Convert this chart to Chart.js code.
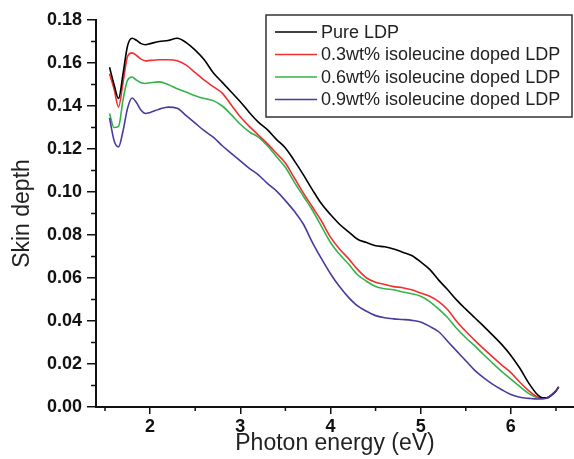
<!DOCTYPE html>
<html>
<head>
<meta charset="utf-8">
<script src="https://cdn.jsdelivr.net/npm/chart.js@4.4.0/dist/chart.umd.min.js"></script>
<style>
  html, body { margin: 0; padding: 0; background: #fff; }
</style>
</head>
<body>
<canvas id="myChart" width="574" height="459"></canvas>
<script>
// Photon energy (eV)
const energy = [1.55, 1.6, 1.65, 1.7, 1.75, 1.8, 1.85, 1.9, 1.95, 2.0,
  2.1, 2.2, 2.3, 2.4, 2.5, 2.6, 2.7, 2.8, 2.9, 3.0,
  3.1, 3.2, 3.3, 3.4, 3.5, 3.6, 3.7, 3.8, 3.9, 4.0,
  4.1, 4.2, 4.3, 4.4, 4.5, 4.6, 4.7, 4.8, 4.9, 5.0,
  5.1, 5.2, 5.3, 5.4, 5.5, 5.6, 5.7, 5.8, 5.9, 6.0,
  6.1, 6.2, 6.3, 6.35, 6.4, 6.45, 6.5, 6.53];

// Skin depth for each sample
const pureLDP = [0.158, 0.150, 0.1435, 0.155, 0.168, 0.1715, 0.1705, 0.169, 0.1685, 0.169,
  0.170, 0.1705, 0.1715, 0.1695, 0.166, 0.1615, 0.1555, 0.151, 0.1465, 0.142,
  0.137, 0.1325, 0.129, 0.1245, 0.1205, 0.1145, 0.108, 0.101, 0.0945, 0.0895,
  0.085, 0.0815, 0.078, 0.0765, 0.075, 0.0745, 0.0735, 0.072, 0.0705, 0.0675,
  0.064, 0.059, 0.0545, 0.0497, 0.0455, 0.0415, 0.0375, 0.0333, 0.029, 0.024,
  0.018, 0.011, 0.0055, 0.0043, 0.0043, 0.0055, 0.0075, 0.0093];
const doped03 = [0.155, 0.148, 0.1395, 0.151, 0.163, 0.1647, 0.1635, 0.1618, 0.161, 0.1612,
  0.1615, 0.1615, 0.161, 0.159, 0.1555, 0.152, 0.149, 0.146, 0.1405, 0.135,
  0.1305, 0.1265, 0.1225, 0.118, 0.1135, 0.1065, 0.0995, 0.093, 0.0865, 0.079,
  0.0735, 0.069, 0.064, 0.060, 0.058, 0.057, 0.056, 0.0555, 0.0545, 0.053,
  0.0515, 0.049, 0.0452, 0.0398, 0.0352, 0.031, 0.027, 0.0232, 0.0195, 0.016,
  0.0115, 0.0075, 0.0045, 0.004, 0.0042, 0.0055, 0.0075, 0.0093];
const doped06 = [0.1365, 0.130, 0.1305, 0.143, 0.152, 0.1535, 0.152, 0.1508, 0.1505, 0.1508,
  0.1512, 0.150, 0.148, 0.1465, 0.1448, 0.1435, 0.1425, 0.140, 0.136, 0.1315,
  0.128, 0.1255, 0.1215, 0.1165, 0.1115, 0.1045, 0.098, 0.0915, 0.084, 0.0765,
  0.071, 0.0665, 0.0615, 0.0585, 0.056, 0.055, 0.0545, 0.0535, 0.0527, 0.0515,
  0.049, 0.0455, 0.0415, 0.0365, 0.0322, 0.0284, 0.0243, 0.0203, 0.0165, 0.013,
  0.0095, 0.0062, 0.0042, 0.004, 0.0042, 0.0055, 0.0075, 0.0093];
const doped09 = [0.1345, 0.124, 0.121, 0.1285, 0.139, 0.1437, 0.1415, 0.138, 0.1365, 0.137,
  0.1385, 0.1395, 0.139, 0.1355, 0.132, 0.1285, 0.1255, 0.1215, 0.118, 0.1145,
  0.111, 0.108, 0.104, 0.1005, 0.096, 0.091, 0.085, 0.0765, 0.069, 0.062,
  0.056, 0.051, 0.047, 0.0445, 0.0425, 0.0415, 0.041, 0.0407, 0.0403, 0.0395,
  0.0375, 0.035, 0.0305, 0.026, 0.0215, 0.017, 0.0135, 0.0105, 0.008, 0.0058,
  0.0045, 0.004, 0.0037, 0.0038, 0.0042, 0.0055, 0.0075, 0.0093];

const seriesNames = ['Pure LDP', '0.3wt% isoleucine doped LDP',
  '0.6wt% isoleucine doped LDP', '0.9wt% isoleucine doped LDP'];
const seriesColors = ['#000000', '#f0302e', '#33b44a', '#4b3a9e'];

// axis ticks
const xMajor = [2, 3, 4, 5, 6];
const xMinor = [1.5, 2.5, 3.5, 4.5, 5.5, 6.5];
const yMajor = [0, 0.02, 0.04, 0.06, 0.08, 0.10, 0.12, 0.14, 0.16, 0.18];
const yMinor = [0.01, 0.03, 0.05, 0.07, 0.09, 0.11, 0.13, 0.15, 0.17];

const FONT = "'Liberation Sans', Arial, sans-serif";

function toPoints(ys) {
  return energy.map((x, i) => ({ x: x, y: ys[i] }));
}

const allSeries = [pureLDP, doped03, doped06, doped09];
const drawOrder = [1, 2, 3, 0];

const data = {
  datasets: allSeries.map((ys, i) => ({
    label: seriesNames[i],
    data: toPoints(ys),
    borderColor: seriesColors[i],
    borderWidth: 1.6,
    pointRadius: 0,
    cubicInterpolationMode: 'monotone',
    fill: false,
    order: drawOrder[i]
  }))
};

// minor tick marks, drawn with the axes' own scales
const minorTicks = {
  id: 'minorTicks',
  afterDraw(chart) {
    const ctx = chart.ctx;
    const xs = chart.scales.x, ys = chart.scales.y;
    ctx.save();
    ctx.strokeStyle = '#111';
    ctx.lineWidth = 1.5;
    ctx.beginPath();
    xMinor.forEach(v => {
      const px = xs.getPixelForValue(v);
      ctx.moveTo(px, xs.top);
      ctx.lineTo(px, xs.top + 4);
    });
    yMinor.forEach(v => {
      const py = ys.getPixelForValue(v);
      ctx.moveTo(ys.right, py);
      ctx.lineTo(ys.right - 5, py);
    });
    ctx.stroke();
    ctx.restore();
  }
};

// boxed legend inside the plot
const boxLegend = {
  id: 'boxLegend',
  afterDraw(chart) {
    const ctx = chart.ctx;
    const left = 266, top = 15, right = 572, bottom = 117;
    ctx.save();
    ctx.fillStyle = '#fff';
    ctx.fillRect(left, top, right - left, bottom - top);
    ctx.strokeStyle = '#333';
    ctx.lineWidth = 1.5;
    ctx.strokeRect(left, top, right - left, bottom - top);
    ctx.font = '18px ' + FONT;
    ctx.textBaseline = 'middle';
    ctx.textAlign = 'left';
    seriesNames.forEach((name, i) => {
      const y = 32 + i * 22.5;
      ctx.strokeStyle = seriesColors[i];
      ctx.lineWidth = 1.6;
      ctx.beginPath();
      ctx.moveTo(275, y);
      ctx.lineTo(317, y);
      ctx.stroke();
      ctx.fillStyle = '#222';
      ctx.fillText(name, 321, y + 1);
    });
    ctx.restore();
  }
};

const options = {
  responsive: false,
  animation: false,
  layout: { padding: { top: 20, right: 0, left: 0, bottom: 0 } },
  plugins: {
    legend: { display: false },
    tooltip: { enabled: false }
  },
  scales: {
    x: {
      type: 'linear',
      min: 1.4,
      max: 6.7,
      afterFit: s => { s.height = 52; },
      afterBuildTicks: s => { s.ticks = xMajor.map(v => ({ value: v })); },
      border: { color: '#111', width: 2 },
      grid: { drawOnChartArea: false, drawTicks: true, tickLength: 7, tickColor: '#111', lineWidth: 1.5 },
      ticks: {
        color: '#111',
        padding: 2,
        maxRotation: 0,
        font: { family: FONT, size: 18, weight: 'bold' },
        callback: v => String(v)
      },
      title: {
        display: true,
        text: 'Photon energy (eV)',
        color: '#222',
        padding: { top: 0, bottom: 2 },
        font: { family: FONT, size: 23 }
      }
    },
    y: {
      type: 'linear',
      min: 0,
      max: 0.18,
      afterFit: s => { s.width = 96; },
      afterBuildTicks: s => { s.ticks = yMajor.map(v => ({ value: v })); },
      border: { color: '#111', width: 2 },
      grid: { drawOnChartArea: false, drawTicks: true, tickLength: 9, tickColor: '#111', lineWidth: 1.5 },
      ticks: {
        color: '#111',
        padding: 5,
        font: { family: FONT, size: 18, weight: 'bold' },
        callback: v => Number(v).toFixed(2)
      },
      title: {
        display: true,
        text: 'Skin depth',
        color: '#222',
        padding: { top: 9, bottom: 0 },
        font: { family: FONT, size: 23 }
      }
    }
  }
};

const chart = new Chart(
  document.getElementById('myChart'),
  {
    type: 'line',
    data: data,
    options: options,
    plugins: [minorTicks, boxLegend]
  }
);
</script>
</body>
</html>
